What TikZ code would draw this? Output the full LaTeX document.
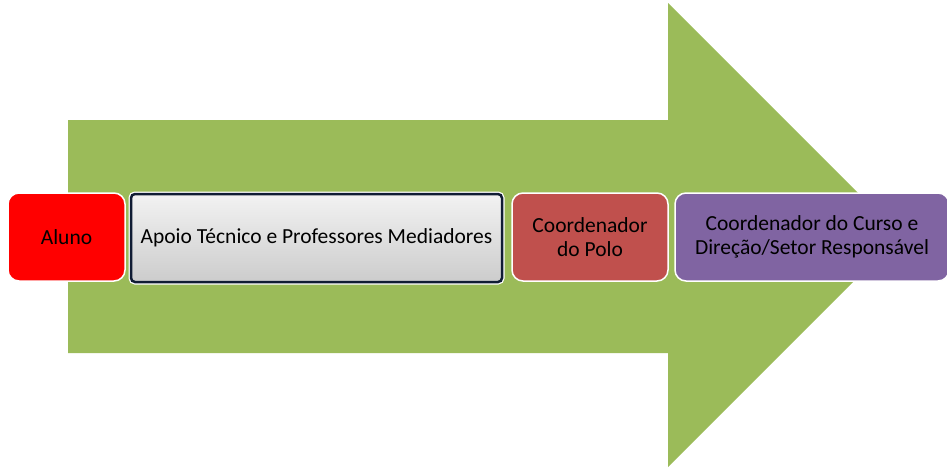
\documentclass[tikz,border=0pt]{standalone}
\usepackage{fontspec}
\setmainfont{Carlito}
\definecolor{custom-green}{RGB}{155, 187, 89}
\definecolor{custom-red}{RGB}{255, 0, 0}
\definecolor{custom-brick}{RGB}{192, 80, 77}
\definecolor{custom-purple}{RGB}{128, 100, 162}
\definecolor{custom-navy}{RGB}{16, 28, 52}
\tikzset{
  stagebox/.style={draw=white, line width=1.5pt, rounded corners=11pt,
    minimum height=88pt, align=center, text=black,
    font=\fontsize{21.5}{24}\selectfont},
}

\begin{document}
\begin{tikzpicture}[x=1pt, y=-1pt]
\useasboundingbox (0,0) rectangle (947,469);

% big arrow behind the stages
\fill[custom-green] (68,120) -- (668,120) -- (668,3) -- (900,235)
  -- (668,467) -- (668,353) -- (68,353) -- cycle;

\node[stagebox, fill=custom-red, minimum width=117pt] (aluno) at (66.5,237) {Aluno};
\node[stagebox, minimum width=371pt, minimum height=88pt, rounded corners=4pt,
  top color=white!95!black, bottom color=white!80!black,
  draw=custom-navy, line width=2.5pt,
  preaction={draw=white, line width=5pt}] (apoio) at (316.5,238)
  {Apoio Técnico e Professores Mediadores};
\node[stagebox, fill=custom-brick, minimum width=156pt] (polo) at (590,237)
  {Coordenador\\do Polo};
\node[stagebox, fill=custom-purple, minimum width=274pt] (curso) at (812,237)
  {Coordenador do Curso e\\Direção/Setor Responsável};

\end{tikzpicture}
\end{document}
